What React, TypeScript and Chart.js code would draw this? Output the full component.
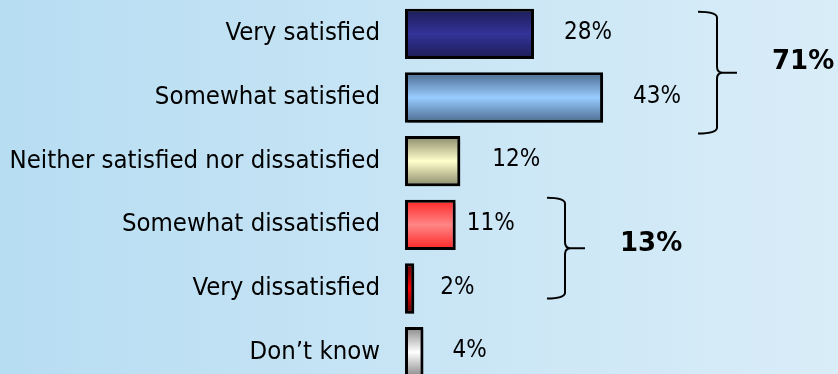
import React, { useEffect, useRef } from "react";
import { Chart, registerables } from "chart.js";

Chart.register(...registerables);

const categories = [
  "Very satisfied",
  "Somewhat satisfied",
  "Neither satisfied nor dissatisfied",
  "Somewhat dissatisfied",
  "Very dissatisfied",
  "Don\u2019t know",
];
const values = [28, 43, 12, 11, 2, 4];
const valueLabels = ["28%", "43%", "12%", "11%", "2%", "4%"];
const groupMembers = [
  [0, 1],
  [3, 4],
];
const groupTotals = ["71%", "13%"];

// styling (not data)
const barEdge = ["#1c1c55", "#4a6a8e", "#8a8a6a", "#ff2424", "#5a0000", "#888888"];
const barMid = ["#333399", "#99ccff", "#ffffcc", "#ff8686", "#ff0000", "#ffffff"];
const labelGap = [30, 30, 32, 11, 26, 29];
const bracketStyle = [
  { x: 698, spine: 717, tip: 737, top: -22, bottom: 36, textX: 772, textDy: -10 },
  { x: 547, spine: 565, tip: 585, top: -27, bottom: 10, textX: 620, textDy: -4 },
];
const FONT = "'DejaVu Sans Condensed', 'DejaVu Sans', sans-serif";
const BOLD_FONT = "'DejaVu Sans', sans-serif";

const bgPlugin = {
  id: "bg",
  beforeDraw(chart: any) {
    const { ctx, width, height } = chart;
    const g = ctx.createLinearGradient(0, 0, width, 0);
    g.addColorStop(0, "#b7ddf2");
    g.addColorStop(1, "#d9edf8");
    ctx.save();
    ctx.fillStyle = g;
    ctx.fillRect(0, 0, width, height);
    ctx.restore();
  },
};

const decoPlugin = {
  id: "deco",
  beforeDatasetsDraw(chart: any) {
    const ctx = chart.ctx;
    ctx.save();
    ctx.shadowColor = "rgba(0,0,0,0.3)";
    ctx.shadowOffsetX = 3;
    ctx.shadowOffsetY = 3;
    ctx.shadowBlur = 2;
  },
  afterDatasetsDraw(chart: any) {
    const ctx = chart.ctx;
    ctx.restore();
    const meta = chart.getDatasetMeta(0);
    ctx.save();
    ctx.fillStyle = "#000";
    ctx.font = `24px ${FONT}`;
    ctx.textAlign = "left";
    ctx.textBaseline = "middle";
    meta.data.forEach((el: any, i: number) => {
      ctx.fillText(valueLabels[i], el.x + labelGap[i], el.y - 1);
    });
    // brackets
    const yScale = chart.scales.y;
    ctx.strokeStyle = "#000";
    ctx.lineWidth = 2;
    groupMembers.forEach((members, gi) => {
      const s = bracketStyle[gi];
      const top = yScale.getPixelForValue(members[0]) + s.top;
      const bottom = yScale.getPixelForValue(members[members.length - 1]) + s.bottom;
      const mid = (top + bottom) / 2;
      const r = 6;
      ctx.beginPath();
      ctx.moveTo(s.x, top);
      ctx.quadraticCurveTo(s.spine, top, s.spine, top + r);
      ctx.lineTo(s.spine, mid - r);
      ctx.quadraticCurveTo(s.spine, mid, s.spine + r, mid);
      ctx.lineTo(s.tip, mid);
      ctx.moveTo(s.spine + r, mid);
      ctx.quadraticCurveTo(s.spine, mid, s.spine, mid + r);
      ctx.lineTo(s.spine, bottom - r);
      ctx.quadraticCurveTo(s.spine, bottom, s.x, bottom);
      ctx.stroke();
      ctx.font = `bold 26px ${BOLD_FONT}`;
      ctx.fillText(groupTotals[gi], s.textX, mid + s.textDy);
    });
    ctx.restore();
  },
};

export default function App() {
  const ref = useRef<HTMLCanvasElement>(null);
  useEffect(() => {
    document.body.style.margin = "0";
    const canvas = ref.current!;
    const chart = new Chart(canvas, {
      type: "bar",
      data: {
        labels: categories,
        datasets: [
          {
            data: values,
            backgroundColor: (c: any) => {
              const i = c.dataIndex;
              const ys = c.chart.scales && c.chart.scales.y;
              if (i == null || !ys) return barMid[i ?? 0];
              const cy = ys.getPixelForValue(i);
              if (!isFinite(cy)) return barMid[i];
              const g = c.chart.ctx.createLinearGradient(0, cy - 25, 0, cy + 25);
              g.addColorStop(0, barEdge[i]);
              g.addColorStop(0.5, barMid[i]);
              g.addColorStop(1, barEdge[i]);
              return g;
            },
            borderColor: "#000",
            borderWidth: 3,
            borderSkipped: false,
            barPercentage: 0.79,
            categoryPercentage: 1,
          },
        ],
      },
      options: {
        indexAxis: "y",
        animation: false,
        responsive: false,
        devicePixelRatio: 1,
        layout: { autoPadding: false, padding: { top: 2, left: 0, right: 0, bottom: 0 } },
        plugins: { legend: { display: false }, tooltip: { enabled: false } },
        scales: {
          x: { display: false, min: 0, max: 94 },
          y: {
            grid: { display: false, drawTicks: false },
            border: { display: false },
            ticks: { color: "#000", font: { family: FONT, size: 25.5 }, padding: 25 },
            afterFit: (s: any) => {
              s.width = 405;
              s.paddingTop = 0;
              s.paddingBottom = 0;
            },
          },
        },
      },
      plugins: [bgPlugin, decoPlugin],
    } as any);
    return () => chart.destroy();
  }, []);
  return (
    <div style={{ width: 838, height: 374, overflow: "hidden" }}>
      <canvas ref={ref} width={838} height={384} style={{ display: "block" }} />
    </div>
  );
}
